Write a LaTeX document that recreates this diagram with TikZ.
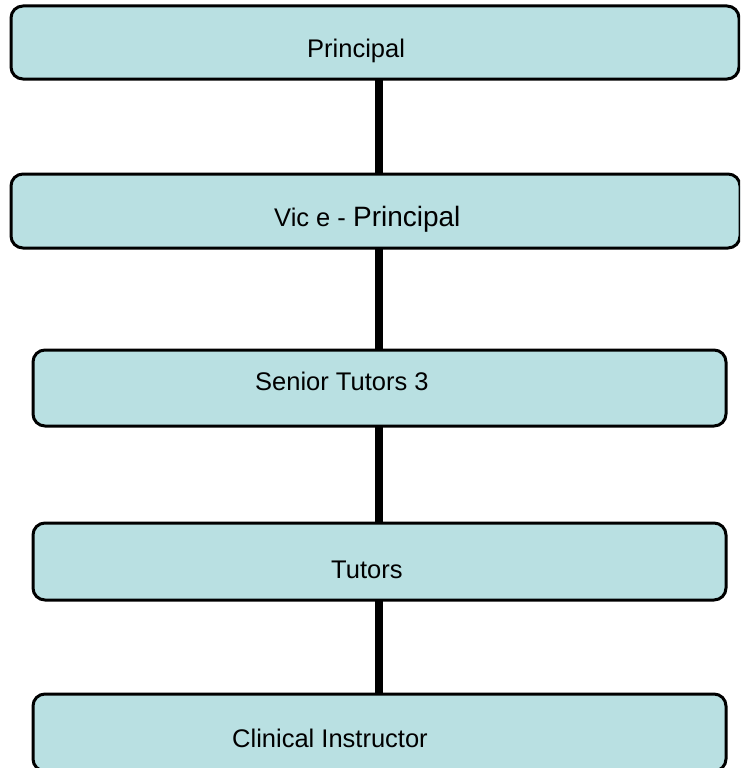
\documentclass[tikz,border=0pt]{standalone}
\usepackage{fontspec}
\setmainfont{Liberation Sans}
\definecolor{boxfill}{RGB}{185,224,226}
\tikzset{
  orgbox/.style={draw=black, line width=3pt, fill=boxfill, rounded corners=12pt,
                 inner sep=0pt, outer sep=0pt},
  orgtext/.style={anchor=base west, inner sep=0pt, font=\fontsize{25.5}{30}\selectfont},
  orglink/.style={line width=8pt, black}
}
\begin{document}
\begin{tikzpicture}[x=1pt, y=-1pt]
  \useasboundingbox (0,0) rectangle (740,768);
  \clip (0,0) rectangle (740,768);

  % boxes of the hierarchy
  \node[orgbox, minimum width=728pt, minimum height=73pt] (principal) at (375,42.5) {};
  \node[orgbox, minimum width=729pt, minimum height=74pt] (vice) at (375.5,211) {};
  \node[orgbox, minimum width=693pt, minimum height=76pt] (senior) at (379.5,388) {};
  \node[orgbox, minimum width=693pt, minimum height=77pt] (tutors) at (379.5,561.5) {};
  \node[orgbox, minimum width=693pt, minimum height=77pt] (clinical) at (379.5,732.5) {};

  % titles
  \node[orgtext] (tprincipal) at (307,58) {Principal};
  \node[orgtext] (tvice) at (274,226) {Vic e - {\fontsize{28}{32}\selectfont Principal}};
  \node[orgtext] (tsenior) at (255,390) {Senior Tutors 3};
  \node[orgtext] (ttutors) at (331,578) {Tutors};
  \node[orgtext] (tclinical) at (232,747) {Clinical Instructor};

  % reporting lines
  \draw[orglink] (principal.south -| 379,0) -- (vice.north -| 379,0);
  \draw[orglink] (vice.south -| 379,0) -- (senior.north -| 379,0);
  \draw[orglink] (senior.south -| 379,0) -- (tutors.north -| 379,0);
  \draw[orglink] (tutors.south -| 379,0) -- (clinical.north -| 379,0);
\end{tikzpicture}
\end{document}
